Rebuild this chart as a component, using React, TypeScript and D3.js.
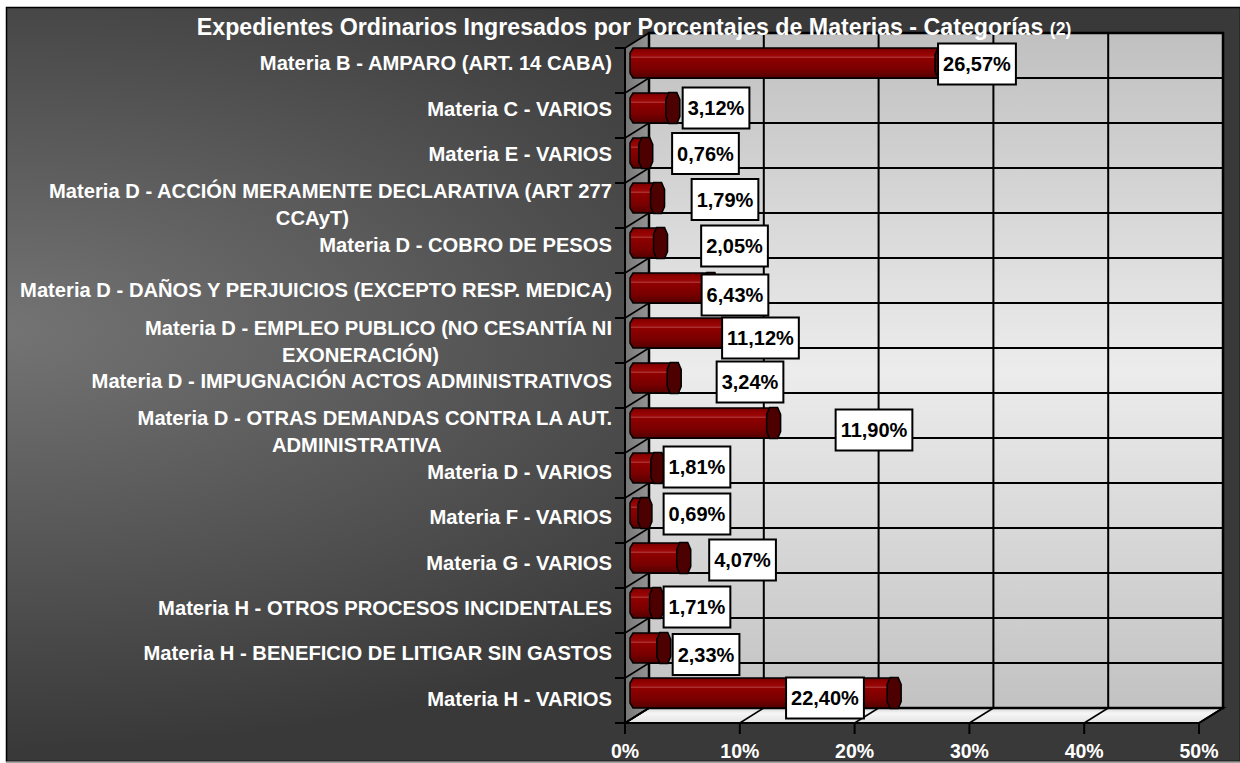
import React, { useEffect, useRef } from "react";
import * as d3 from "d3";

const title = "Expedientes Ordinarios Ingresados por Porcentajes de Materias - Categorías";
const titleSuffix = "(2)";

const categories = [
  "Materia B - AMPARO (ART. 14 CABA)",
  "Materia C - VARIOS",
  "Materia E - VARIOS",
  "Materia D - ACCIÓN MERAMENTE DECLARATIVA (ART 277\nCCAyT)",
  "Materia D - COBRO DE PESOS",
  "Materia D - DAÑOS Y PERJUICIOS (EXCEPTO RESP. MEDICA)",
  "Materia D - EMPLEO PUBLICO (NO CESANTÍA NI\nEXONERACIÓN)",
  "Materia D - IMPUGNACIÓN ACTOS ADMINISTRATIVOS",
  "Materia D - OTRAS DEMANDAS CONTRA LA AUT.\nADMINISTRATIVA",
  "Materia D - VARIOS",
  "Materia F - VARIOS",
  "Materia G -  VARIOS",
  "Materia H - OTROS PROCESOS INCIDENTALES",
  "Materia H - BENEFICIO DE LITIGAR SIN GASTOS",
  "Materia H - VARIOS",
];

const values = [26.57, 3.12, 0.76, 1.79, 2.05, 6.43, 11.12, 3.24, 11.9, 1.81, 0.69, 4.07, 1.71, 2.33, 22.4];

const xTicks = [0, 10, 20, 30, 40, 50];

// where Excel placed each value label (in axis units) and its small vertical shift
const labelAt = [30.66, 7.93, 7.01, 8.71, 9.54, 9.58, 11.8, 10.89, 21.69, 6.27, 6.27, 10.24, 6.27, 7.06, 17.42];
const labelDy = [1, 0, 0.5, 1.5, 3, 7, 5, 4, 7, -1, 1, 2, 4, 6.5, 5];

const FONT = "'Liberation Sans', Arial, sans-serif";

export default function App() {
  const ref = useRef<SVGSVGElement | null>(null);

  useEffect(() => {
    const svg = d3.select(ref.current);
    svg.selectAll("*").remove();

    const W = 1240;
    const DX = 24, DY = -15;
    const x = d3.scaleLinear().domain([0, 50]).range([625, 1199]);
    const y = d3.scaleBand<number>().domain(d3.range(categories.length)).range([48, 723]).padding(0);
    const yLab = d3.scaleBand<number>().domain(d3.range(categories.length)).range([40.3, 721.3]);

    const defs = svg.append("defs");
    const bg = defs.append("radialGradient").attr("id", "bg").attr("gradientUnits", "userSpaceOnUse")
      .attr("cx", 0).attr("cy", 330).attr("r", 420)
      .attr("gradientTransform", "translate(0,330) scale(2.2,1) translate(0,-330)");
    bg.append("stop").attr("offset", "0").attr("stop-color", "#747474");
    bg.append("stop").attr("offset", "0.5").attr("stop-color", "#575757");
    bg.append("stop").attr("offset", "1").attr("stop-color", "#393939");

    const wall = defs.append("linearGradient").attr("id", "wall").attr("x1", 0).attr("y1", 0).attr("x2", 0).attr("y2", 1);
    wall.append("stop").attr("offset", "0").attr("stop-color", "#c0c0c0");
    wall.append("stop").attr("offset", "0.5").attr("stop-color", "#ececec");
    wall.append("stop").attr("offset", "1").attr("stop-color", "#c2c2c2");

    const side = defs.append("linearGradient").attr("id", "side").attr("x1", 0).attr("y1", 0).attr("x2", 1).attr("y2", 0);
    side.append("stop").attr("offset", "0").attr("stop-color", "#767676");
    side.append("stop").attr("offset", "1").attr("stop-color", "#959595");

    const floor = defs.append("linearGradient").attr("id", "floor").attr("x1", 0).attr("y1", 0).attr("x2", 0).attr("y2", 1);
    floor.append("stop").attr("offset", "0").attr("stop-color", "#d6d6d6");
    floor.append("stop").attr("offset", "0.35").attr("stop-color", "#f6f6f6");
    floor.append("stop").attr("offset", "1").attr("stop-color", "#e2e2e2");

    const bar = defs.append("linearGradient").attr("id", "bar").attr("x1", 0).attr("y1", 0).attr("x2", 0).attr("y2", 1);
    [["0", "#700000"], ["0.12", "#900000"], ["0.28", "#9c0808"], ["0.3", "#c46a6a"], ["0.33", "#900000"], ["0.7", "#7a0000"], ["1", "#540000"]]
      .forEach(([o, c]) => bar.append("stop").attr("offset", o).attr("stop-color", c));

    // background panel
    svg.append("rect").attr("x", 6.5).attr("y", 7.5).attr("width", W - 6).attr("height", 754)
      .attr("fill", "url(#bg)").attr("stroke", "#000").attr("stroke-width", 1.5);
    svg.append("line").attr("x1", 6).attr("x2", W).attr("y1", 762).attr("y2", 762).attr("stroke", "#9a9a9a").attr("stroke-width", 1.5);

    const x0 = x(0), x1 = x(50), yTop = 48, yBot = 723;

    // back wall
    svg.append("rect").attr("x", x0 + DX).attr("y", yTop + DY).attr("width", x1 - x0).attr("height", yBot - yTop)
      .attr("fill", "url(#wall)");
    // side wall
    svg.append("path").attr("d", `M${x0},${yTop}L${x0 + DX},${yTop + DY}L${x0 + DX},${yBot + DY}L${x0},${yBot}Z`)
      .attr("fill", "url(#side)");
    // floor
    svg.append("path").attr("d", `M${x0},${yBot}L${x0 + DX},${yBot + DY}L${x1 + DX},${yBot + DY}L${x1},${yBot}Z`)
      .attr("fill", "url(#floor)").attr("stroke", "#000").attr("stroke-width", 2).attr("stroke-linejoin", "miter");

    const grid = svg.append("g").attr("stroke", "#000").attr("stroke-width", 2).attr("fill", "none");
    const bounds = d3.range(categories.length + 1).map((i) => (i < categories.length ? (y(i) as number) : yBot));
    bounds.forEach((b) => {
      grid.append("line").attr("x1", x0 + DX).attr("x2", x1 + DX).attr("y1", b + DY).attr("y2", b + DY);
      grid.append("line").attr("x1", x0).attr("x2", x0 + DX).attr("y1", b).attr("y2", b + DY).attr("stroke-width", 1.5);
      grid.append("line").attr("x1", x0 - 10).attr("x2", x0).attr("y1", b).attr("y2", b);
    });
    xTicks.forEach((t) => {
      grid.append("line").attr("x1", x(t) + DX).attr("x2", x(t) + DX).attr("y1", yTop + DY).attr("y2", yBot + DY);
      grid.append("line").attr("x1", x(t)).attr("x2", x(t) + DX).attr("y1", yBot).attr("y2", yBot + DY).attr("stroke-width", 1.5);
      grid.append("line").attr("x1", x(t)).attr("x2", x(t)).attr("y1", yBot).attr("y2", yBot + 11);
    });
    grid.append("rect").attr("x", x0 + DX).attr("y", yTop + DY).attr("width", x1 - x0).attr("height", yBot - yTop).attr("stroke-width", 2.5);
    grid.append("line").attr("x1", x0).attr("x2", x0).attr("y1", yTop).attr("y2", yBot).attr("stroke-width", 2);

    // bars
    const bh = 30, cw = 7;
    const gBars = svg.append("g");
    values.forEach((v, i) => {
      const cy = (y(i) as number) + y.bandwidth() / 2 + DY / 2;
      const a = x(0) + DX / 2 - cw;
      const b = x(v) + DX / 2;
      const t = cy - bh / 2, btm = cy + bh / 2;
      gBars.append("path")
        .attr("d", `M${a + 3},${t}L${b},${t}L${b},${btm}L${a + 3},${btm}L${a},${btm - 5}L${a},${t + 5}Z`)
        .attr("fill", "url(#bar)").attr("stroke", "#000").attr("stroke-width", 1.5);
      const ct = t - 0.5, cb = btm + 0.5;
      gBars.append("path")
        .attr("d", `M${b - cw + 3},${ct}L${b + cw - 3},${ct}L${b + cw},${ct + 7}L${b + cw},${cb - 7}L${b + cw - 3},${cb}L${b - cw + 3},${cb}L${b - cw},${cb - 7}L${b - cw},${ct + 7}Z`)
        .attr("fill", "#4c0000").attr("stroke", "#000").attr("stroke-width", 1.5);
    });

    // value labels
    const gLab = svg.append("g").attr("font-family", FONT).attr("font-weight", "bold").attr("font-size", 20);
    values.forEach((v, i) => {
      const cy = (y(i) as number) + y.bandwidth() / 2 + DY / 2 + labelDy[i];
      const cx = x(labelAt[i]);
      const txt = d3.format(".2f")(v).replace(".", ",") + "%";
      const g = gLab.append("g");
      const r = g.append("rect");
      const tx = g.append("text").attr("x", cx).attr("y", cy).attr("dy", "0.36em").attr("text-anchor", "middle")
        .attr("fill", "#000").text(txt);
      const w = (tx.node() as SVGTextElement).getComputedTextLength() + 10;
      r.attr("x", cx - w / 2).attr("y", cy - 20.5).attr("width", w).attr("height", 41)
        .attr("fill", "#fff").attr("stroke", "#000").attr("stroke-width", 2);
    });

    // category labels
    const gCat = svg.append("g").attr("font-family", FONT).attr("font-weight", "bold").attr("font-size", 20.2)
      .attr("fill", "#fff").style("white-space", "pre");
    categories.forEach((c, i) => {
      const lines = c.split("\n");
      const cy = (yLab(i) as number) + yLab.bandwidth() / 2;
      if (lines.length === 1) {
        gCat.append("text").attr("x", 612).attr("y", cy).attr("dy", "0.36em").attr("text-anchor", "end").text(lines[0]);
      } else {
        const t1 = gCat.append("text").attr("x", 612).attr("y", cy - 8).attr("dy", "0.36em").attr("text-anchor", "end").text(lines[0]);
        const w1 = (t1.node() as SVGTextElement).getComputedTextLength();
        gCat.append("text").attr("x", 612 - w1 / 2 - 18).attr("y", cy + 19).attr("dy", "0.36em").attr("text-anchor", "middle").text(lines[1]);
      }
    });

    // x tick labels
    const gX = svg.append("g").attr("font-family", FONT).attr("font-weight", "bold").attr("font-size", 19.5).attr("fill", "#fff");
    xTicks.forEach((t) => {
      gX.append("text").attr("x", x(t)).attr("y", 751).attr("dy", "0.36em").attr("text-anchor", "middle").text(`${t}%`);
    });

    // title
    const tt = svg.append("text").attr("x", 634).attr("y", 27).attr("dy", "0.36em").attr("text-anchor", "middle")
      .attr("font-family", FONT).attr("font-weight", "bold").attr("font-size", 23.2).attr("fill", "#fff");
    tt.append("tspan").text(title + " ");
    tt.append("tspan").attr("font-size", 17.5).text(titleSuffix);
  }, []);

  return (
    <svg ref={ref} width={1240} height={763} style={{ position: "absolute", left: 0, top: 0, display: "block" }} />
  );
}
